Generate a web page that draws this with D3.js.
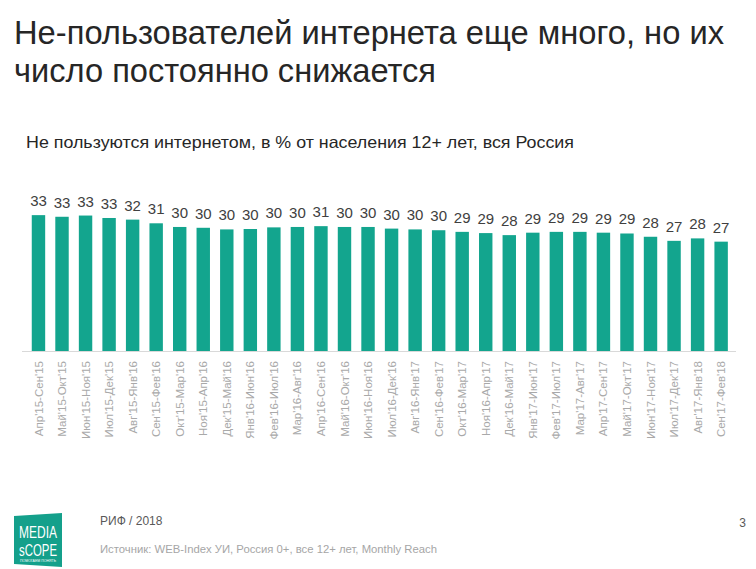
<!DOCTYPE html>
<html><head><meta charset="utf-8">
<script src="https://cdn.jsdelivr.net/npm/d3@7"></script>
<style>
html,body{margin:0;padding:0;background:#fff;}
svg{display:block;}
</style></head>
<body>
<script>
const categories = ["Апр'15-Сен'15","Май'15-Окт'15","Июн'15-Ноя'15","Июл'15-Дек'15","Авг'15-Янв'16","Сен'15-Фев'16","Окт'15-Мар'16","Ноя'15-Апр'16","Дек'15-Май'16","Янв'16-Июн'16","Фев'16-Июл'16","Мар'16-Авг'16","Апр'16-Сен'16","Май'16-Окт'16","Июн'16-Ноя'16","Июл'16-Дек'16","Авг'16-Янв'17","Сен'16-Фев'17","Окт'16-Мар'17","Ноя'16-Апр'17","Дек'16-Май'17","Янв'17-Июн'17","Фев'17-Июл'17","Мар'17-Авг'17","Апр'17-Сен'17","Май'17-Окт'17","Июн'17-Ноя'17","Июл'17-Дек'17","Авг'17-Янв'18","Сен'17-Фев'18"];
const values = [33.3,32.9,33.2,32.6,32.2,31.3,30.4,30.2,29.8,29.9,30.3,30.4,30.6,30.4,30.4,30.0,29.8,29.6,29.2,28.9,28.4,29.0,29.2,29.2,29.0,28.8,28.0,27.0,27.6,26.8];
const valueLabels = [33,33,33,33,32,31,30,30,30,30,30,30,31,30,30,30,30,30,29,29,28,29,29,29,29,29,28,27,28,27];
const titleLines = ["Не-пользователей интернета еще много, но их","число постоянно снижается"];
const subtitle = "Не пользуются интернетом, в % от населения 12+ лет, вся Россия";
const footerTop = "РИФ / 2018";
const footerSource = "Источник: WEB-Index УИ, Россия 0+, все 12+ лет, Monthly Reach";
const pageNumber = "3";

const W = 756, H = 569;
const svg = d3.select("body").append("svg").attr("width", W).attr("height", H);
const narrow = "'Liberation Sans Narrow','Arial Narrow','Liberation Sans',Arial,sans-serif";
const sans = "'Liberation Sans',Arial,sans-serif";

// Title
const titleLens = [710, 422];
titleLines.forEach((t, i) => {
  svg.append("text").attr("x", 14).attr("y", 44 + i*38)
    .attr("font-family", narrow).attr("font-size", 33).attr("fill", "#262626")
    .attr("textLength", titleLens[i]).attr("lengthAdjust", "spacingAndGlyphs")
    .text(t);
});
svg.append("text").attr("x", 26).attr("y", 148)
  .attr("font-family", narrow).attr("font-size", 16.5).attr("fill", "#262626")
  .attr("textLength", 548).attr("lengthAdjust", "spacingAndGlyphs")
  .text(subtitle);

// Chart
const x = d3.scaleBand().domain(categories).range([26.7, 732.9]).paddingInner(0.43).paddingOuter(0.215);
const y = d3.scaleLinear().domain([0, 35]).range([351, 351 - 35*4.08]);

svg.append("line").attr("x1", 22).attr("x2", 736).attr("y1", y(0)+0.5).attr("y2", y(0)+0.5)
  .attr("stroke", "#d9d9d9").attr("stroke-width", 1);

svg.append("g").selectAll("rect").data(values).join("rect")
  .attr("x", (d,i) => x(categories[i]))
  .attr("width", x.bandwidth())
  .attr("y", d => y(d))
  .attr("height", d => y(0) - y(d))
  .attr("fill", "#13a58e");

svg.append("g").selectAll("text").data(values).join("text")
  .attr("x", (d,i) => x(categories[i]) + x.bandwidth()/2)
  .attr("y", d => y(d) - 9)
  .attr("text-anchor", "middle")
  .attr("font-family", sans).attr("font-size", 15).attr("fill", "#404040")
  .text((d,i) => valueLabels[i]);

// X axis labels
const xAxis = d3.axisBottom(x).tickSize(0).tickPadding(0);
const gx = svg.append("g").attr("transform", `translate(0,${y(0)})`).call(xAxis);
gx.select(".domain").remove();
gx.selectAll("text")
  .attr("font-family", sans).attr("font-size", 11.5).attr("fill", "#a9a9a9")
  .attr("text-anchor", "end")
  .attr("transform", "translate(0,10) rotate(-90)")
  .attr("x", 0).attr("y", 0).attr("dy", "0.35em");

// Footer
const logo = svg.append("g");
logo.append("polygon").attr("points", "14,516 62,513 62,567 14,564").attr("fill", "#14a08b");
logo.append("text").attr("x", 38).attr("y", 538).attr("text-anchor", "middle")
  .attr("font-family", narrow).attr("font-size", 17).attr("fill", "#fff")
  .attr("textLength", 38).attr("lengthAdjust", "spacingAndGlyphs").text("MEDIA");
logo.append("text").attr("x", 38).attr("y", 556).attr("text-anchor", "middle")
  .attr("font-family", narrow).attr("font-size", 17).attr("fill", "#fff")
  .attr("textLength", 38).attr("lengthAdjust", "spacingAndGlyphs").text("sCOPE");
logo.append("text").attr("x", 38).attr("y", 562).attr("text-anchor", "middle")
  .attr("font-family", sans).attr("font-size", 3.5).attr("fill", "#fff")
  .attr("textLength", 36).attr("lengthAdjust", "spacingAndGlyphs").text("ПОМОГАЕМ ПОНЯТЬ");

svg.append("text").attr("x", 100).attr("y", 525)
  .attr("font-family", sans).attr("font-size", 12).attr("fill", "#595959").text(footerTop);
svg.append("text").attr("x", 100).attr("y", 553)
  .attr("font-family", sans).attr("font-size", 11).attr("fill", "#a6a6a6")
  .attr("textLength", 337).attr("lengthAdjust", "spacingAndGlyphs").text(footerSource);
svg.append("text").attr("x", 746).attr("y", 527).attr("text-anchor", "end")
  .attr("font-family", sans).attr("font-size", 12).attr("fill", "#595959").text(pageNumber);
</script>
</body></html>
